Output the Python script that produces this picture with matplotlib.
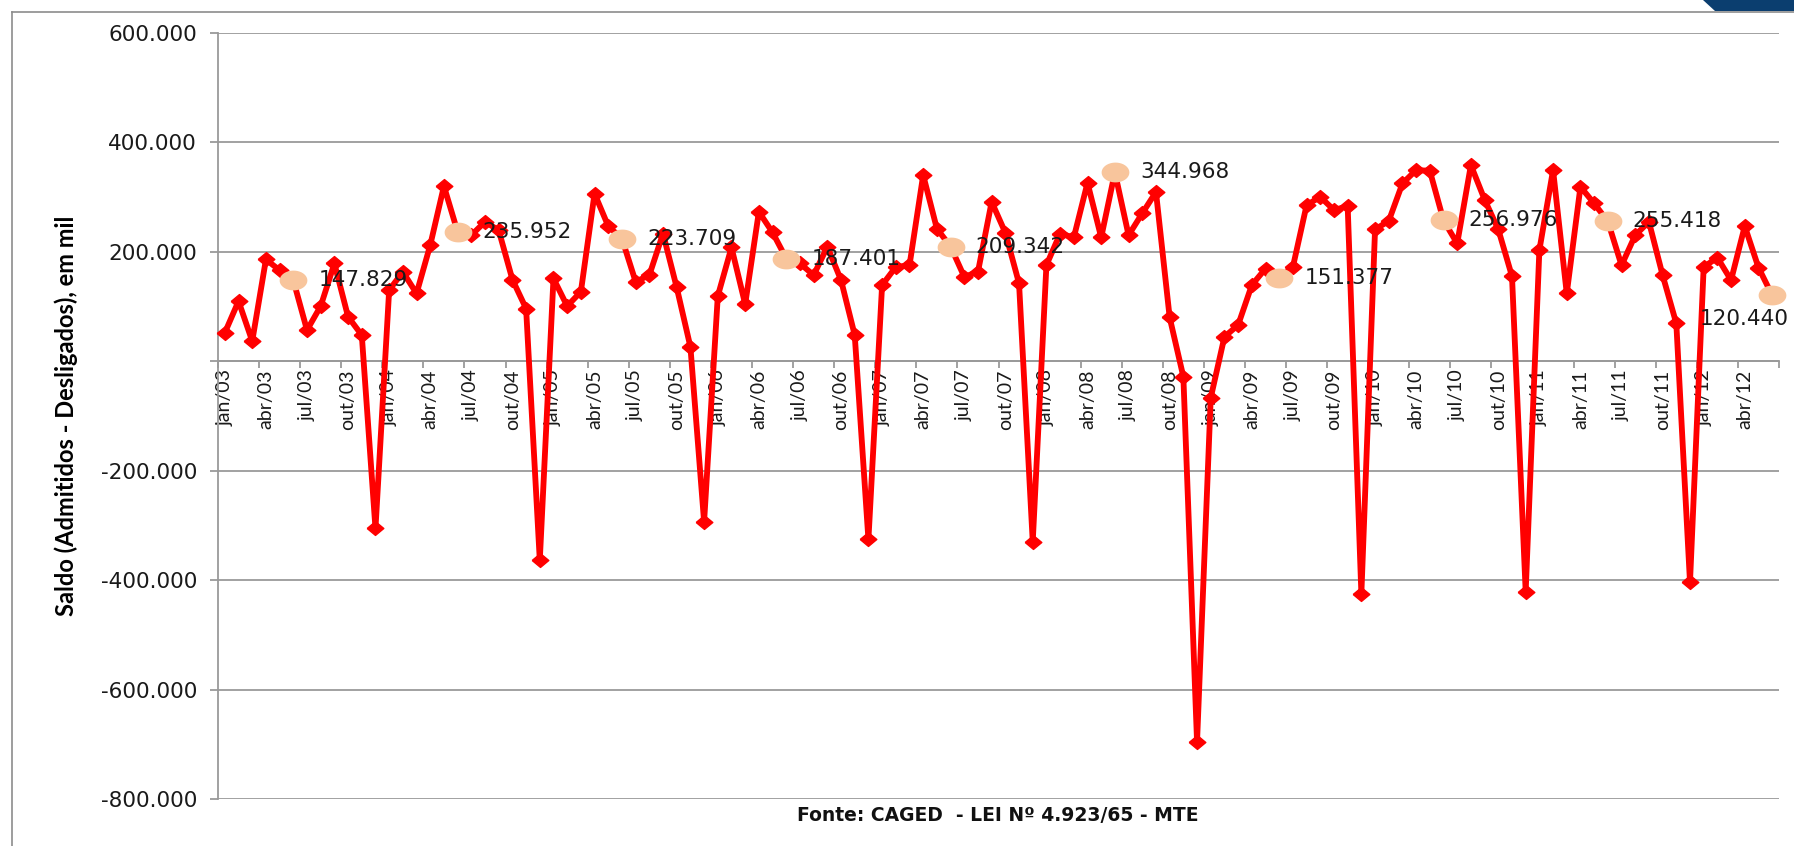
import numpy as np
import matplotlib
matplotlib.use('Agg')
import matplotlib.pyplot as plt
from matplotlib.lines import Line2D
from matplotlib.patches import Polygon

# Saldo mensal do CAGED (admitidos - desligados), em milhares
anos = ['03', '04', '05', '06', '07', '08', '09', '10', '11', '12']
meses_rotulo = ['jan', 'abr', 'jul', 'out']

saldo_2003 = [51.8, 109.6, 36.5, 185.7, 166.0, 147.829, 56.6, 100.5, 178.4, 81.0, 47.5, -305.8]
saldo_2004 = [129.7, 163.0, 123.6, 212.0, 319.7, 235.952, 230.0, 254.6, 239.0, 149.0, 96.0, -363.7]
saldo_2005 = [151.0, 100.5, 126.7, 306.0, 246.6, 223.709, 145.0, 157.0, 233.0, 134.6, 26.0, -293.6]
saldo_2006 = [118.8, 207.7, 104.0, 272.8, 235.0, 187.401, 178.4, 157.0, 209.0, 148.0, 47.5, -325.9]
saldo_2007 = [138.9, 172.0, 175.0, 339.8, 242.0, 209.342, 154.0, 163.0, 291.0, 234.5, 142.0, -330.0]
saldo_2008 = [175.4, 233.0, 226.0, 325.8, 226.0, 344.968, 230.0, 270.0, 309.0, 79.8, -28.6, -695.7]
saldo_2009 = [-67.0, 44.4, 66.0, 138.9, 169.0, 151.377, 172.0, 285.0, 300.0, 276.0, 283.0, -425.0]
saldo_2010 = [240.6, 256.0, 324.6, 349.0, 347.7, 256.976, 215.0, 358.0, 295.0, 240.6, 155.0, -421.0]
saldo_2011 = [202.8, 349.0, 123.6, 318.5, 288.0, 255.418, 175.0, 230.0, 254.6, 157.0, 68.8, -404.0]
saldo_2012 = [172.0, 189.0, 148.0, 246.6, 171.0, 120.440]

# junho de cada ano recebe destaque e rótulo
junho_idx = [5, 17, 29, 41, 53, 65, 77, 89, 101, 113]

saldo = np.array(saldo_2003 + saldo_2004 + saldo_2005 + saldo_2006 + saldo_2007
                 + saldo_2008 + saldo_2009 + saldo_2010 + saldo_2011 + saldo_2012) * 1000
x = np.arange(len(saldo))

W, H = 1794, 846
fig = plt.figure(figsize=(W / 100, H / 100), dpi=100)
fig.patch.set_facecolor('white')

ax = fig.add_axes([218 / W, 1 - 799 / H, (1779 - 218) / W, (799 - 32.7) / H])
ax.set_xlim(-0.5, len(saldo) - 0.5)
ax.set_ylim(-800000, 600000)

cinza = '#9a9a9a'
ax.yaxis.grid(True, color=cinza, lw=1.3, zorder=0)
ax.set_axisbelow(True)
for lado in ['top', 'right']:
    ax.spines[lado].set_visible(False)
ax.spines['left'].set_color(cinza)
ax.spines['left'].set_linewidth(1.3)
ax.spines['bottom'].set_position(('data', 0))
ax.spines['bottom'].set_color(cinza)
ax.spines['bottom'].set_linewidth(1.3)

# eixo y: sem rótulo no zero
yt = np.arange(-800000, 600001, 200000)
ylab = ['' if v == 0 else f'{v // 1000:d}.000' for v in yt]
ax.set_yticks(yt)
ax.set_yticklabels(ylab, fontsize=15.5, family='DejaVu Sans', color='#1a1a1a')
ax.tick_params(axis='y', length=6, width=1.3, color=cinza, pad=9)

# eixo x: marcas entre categorias, rótulos trimestrais
ax.set_xticks(np.arange(-0.5, len(saldo), 3))
ax.set_xticklabels([])
ax.tick_params(axis='x', which='major', length=5, width=1.3, color=cinza, direction='out')
rot_pos = np.arange(0, len(saldo), 3)
rot_txt = [f'{meses_rotulo[(i // 3) % 4]}/{anos[i // 12]}' for i in rot_pos]
ax.set_xticks(rot_pos, minor=True)
ax.set_xticklabels(rot_txt, minor=True, rotation=90, fontsize=14, family='Lato',
                   color='#1a1a1a', va='top', ha='center')
ax.tick_params(axis='x', which='minor', length=0, pad=6)

# linha principal com losangos
losango = [(-1.2, 0), (0, 1), (1.2, 0), (0, -1), (-1.2, 0)]
ax.plot(x, saldo, color='#ff0000', lw=4.2, marker=losango, ms=12,
        mfc='#ff0000', mec='#ff0000', zorder=3, clip_on=False)

# destaque de junho
t = np.linspace(0, 2 * np.pi, 40)
elipse = list(zip(1.4 * np.cos(t), np.sin(t)))
jx = x[junho_idx]
jy = saldo[junho_idx]
ax.plot(jx, jy, ls='none', marker=elipse, ms=20, mfc='#f8c59c', mec='none',
        zorder=4, clip_on=False)

for i, (xi, yi) in enumerate(zip(jx, jy)):
    txt = f'{yi / 1000:.3f}'
    if i == len(jx) - 1:
        # último rótulo vai para baixo, junto à borda
        off = (-52, -17)
    else:
        off = (18, 0)
    ax.annotate(txt, (xi, yi), xytext=off, textcoords='offset points',
                ha='left', va='center', fontsize=15.5, family='DejaVu Sans',
                color='#1a1a1a', zorder=5, annotation_clip=False)

fig.text(66.7 / W, 1 - 416 / H, 'Saldo (Admitidos - Desligados), em mil',
         rotation=90, ha='center', va='center', fontsize=17, family='Lato',
         fontweight='bold', color='black')

fig.text(998 / W, 1 - 815.7 / H, 'Fonte: CAGED  - LEI Nº 4.923/65 - MTE',
         ha='center', va='center', fontsize=13.5, family='DejaVu Sans',
         fontweight='bold', color='#111111')

# moldura externa e detalhe azul no canto
fig.add_artist(Line2D([12 / W, 1], [1 - 11.7 / H, 1 - 11.7 / H], color='#8c8c8c', lw=1.2))
fig.add_artist(Line2D([12 / W, 12 / W], [0, 1 - 11.7 / H], color='#8c8c8c', lw=1.2))
canto = [(1703, 0), (W, 0), (W, 11), (1715, 11)]
fig.add_artist(Polygon([(px / W, 1 - py / H) for px, py in canto],
                       closed=True, facecolor='#0b3e6f', edgecolor='none'))

fig.savefig('out.png', dpi=100, facecolor='white')
